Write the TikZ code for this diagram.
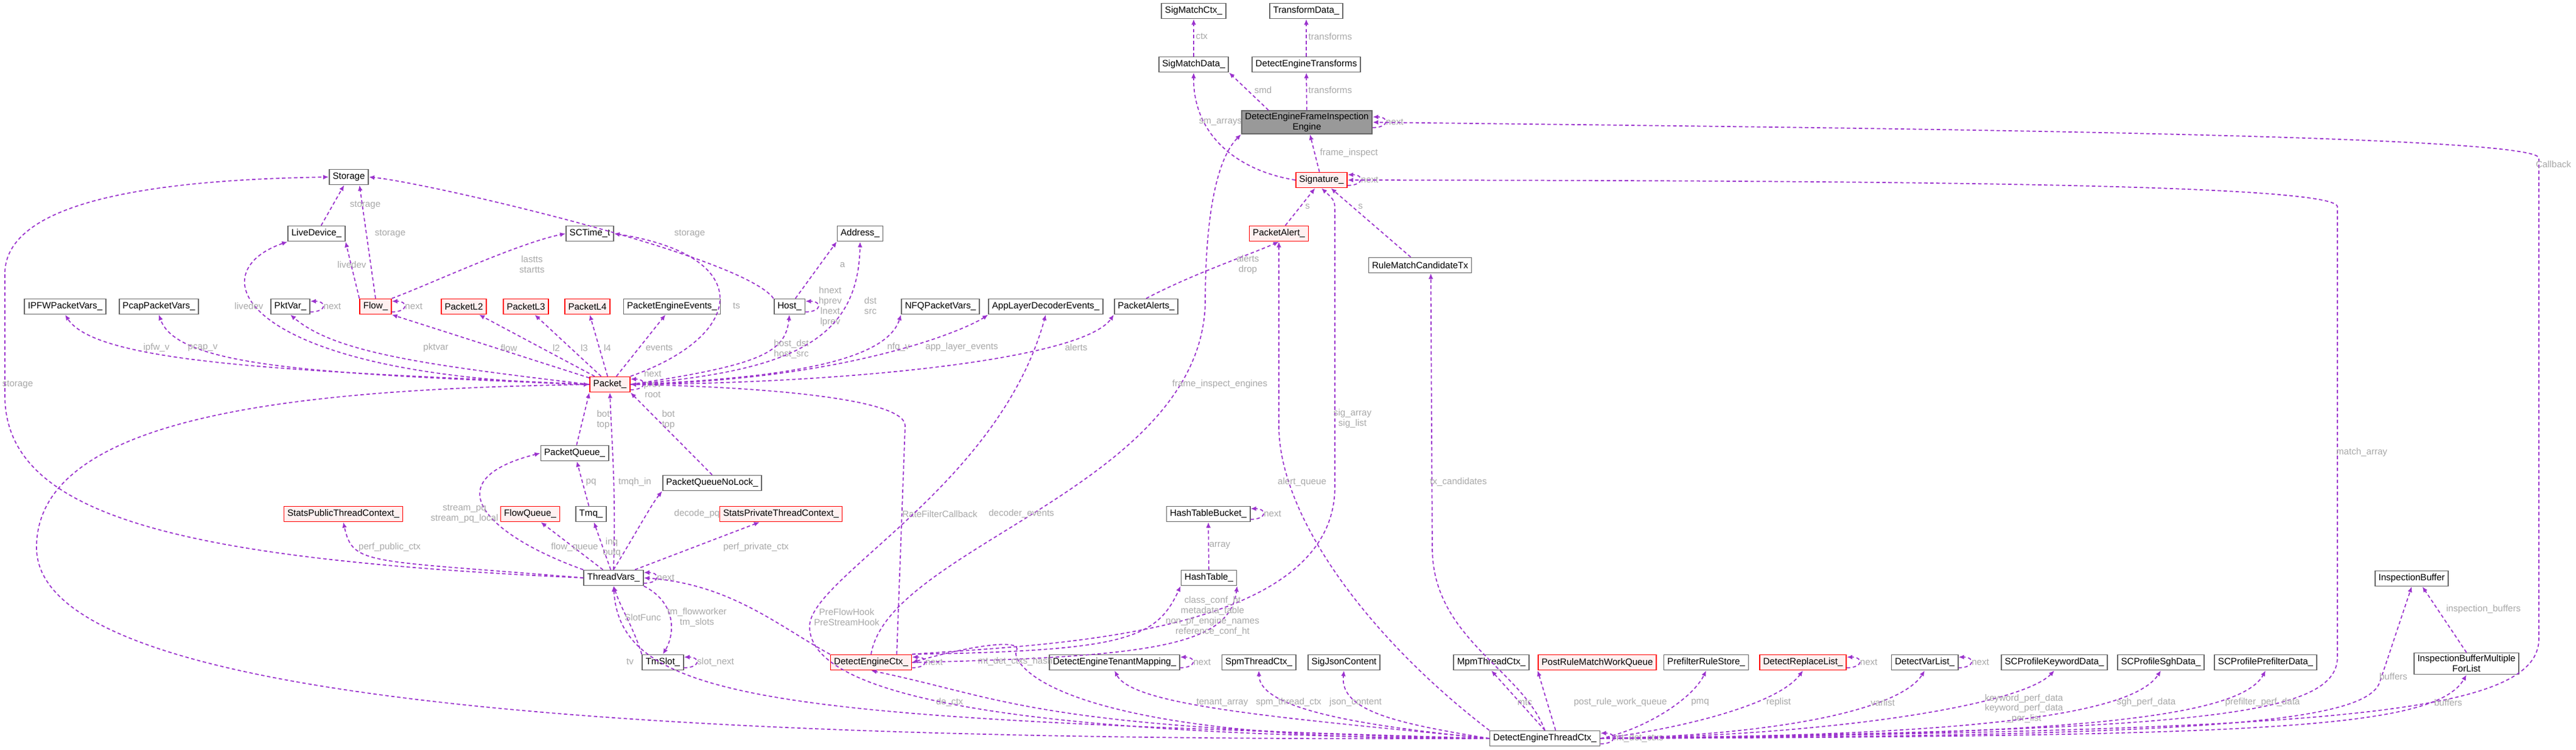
\documentclass[tikz,border=0pt]{standalone}
\usepackage{fontspec}
\setmainfont{Liberation Sans}
\usetikzlibrary{arrows.meta}
\definecolor{ec}{HTML}{9A32CD}
\definecolor{lc}{HTML}{A8A8A8}
\definecolor{rf}{HTML}{FFF0F0}
\begin{document}
\begin{tikzpicture}[
  every node/.style={font=\fontsize{4.3}{4.8}\selectfont},
  box/.style={draw=black!60,fill=white,line width=0.5pt,minimum height=0.25cm,inner xsep=1.6pt,inner ysep=1pt},
  rbox/.style={box,draw=red,fill=rf},
  gbox/.style={box,fill=black!40,align=center},
  e/.style={draw=ec,dashed,dash pattern=on 1.6pt off 1.2pt,line width=0.5pt,-{Latex[length=2.6pt,width=2.2pt]}},
  lbl/.style={text=lc,align=center,inner sep=0pt}]
\useasboundingbox (0,0) rectangle (42.32,-12.32);
% nodes
\node[box] (smc) at (19.61,-0.18) {SigMatchCtx\_};
\node[box] (td) at (21.46,-0.18) {TransformData\_};
\node[box] (smd) at (19.61,-1.06) {SigMatchData\_};
\node[box] (det) at (21.46,-1.06) {DetectEngineTransforms};
\node[gbox] (fie) at (21.47,-2.01) {DetectEngineFrameInspection\\Engine};
\node[rbox] (sig) at (21.71,-2.96) {Signature\_};
\node[rbox] (pa) at (21.01,-3.84) {PacketAlert\_};
\node[box] (rmc) at (23.33,-4.36) {RuleMatchCandidateTx};
\node[box] (sto) at (5.73,-2.91) {Storage};
\node[box] (ld) at (5.20,-3.84) {LiveDevice\_};
\node[box] (sct) at (9.69,-3.84) {SCTime\_t};
\node[box] (addr) at (14.13,-3.84) {Address\_};
\node[box] (ipfw) at (1.07,-5.04) {IPFWPacketVars\_};
\node[box] (pcap) at (2.61,-5.04) {PcapPacketVars\_};
\node[box] (pkv) at (4.77,-5.04) {PktVar\_};
\node[rbox] (flow) at (6.17,-5.04) {Flow\_};
\node[rbox] (l2) at (7.62,-5.04) {PacketL2};
\node[rbox] (l3) at (8.64,-5.04) {PacketL3};
\node[rbox] (l4) at (9.65,-5.04) {PacketL4};
\node[box] (pee) at (11.04,-5.04) {PacketEngineEvents\_};
\node[box] (host) at (12.97,-5.04) {Host\_};
\node[box] (nfq) at (15.45,-5.04) {NFQPacketVars\_};
\node[box] (alde) at (17.18,-5.04) {AppLayerDecoderEvents\_};
\node[box] (pas) at (18.83,-5.04) {PacketAlerts\_};
\node[rbox] (pkt) at (10.02,-6.32) {Packet\_};
\node[box] (pq) at (9.44,-7.45) {PacketQueue\_};
\node[box] (pqnl) at (11.70,-7.94) {PacketQueueNoLock\_};
\node[rbox] (sptc) at (5.64,-8.45) {StatsPublicThreadContext\_};
\node[rbox] (fq) at (8.71,-8.45) {FlowQueue\_};
\node[box] (tmq) at (9.71,-8.45) {Tmq\_};
\node[rbox] (sprtc) at (12.83,-8.45) {StatsPrivateThreadContext\_};
\node[box] (htb) at (19.85,-8.45) {HashTableBucket\_};
\node[box] (tv) at (10.08,-9.50) {ThreadVars\_};
\node[box] (ht) at (19.86,-9.50) {HashTable\_};
\node[box] (ib) at (39.62,-9.51) {InspectionBuffer};
\node[box] (ts) at (10.89,-10.89) {TmSlot\_};
\node[rbox] (dec) at (14.31,-10.89) {DetectEngineCtx\_};
\node[box] (dtm) at (18.31,-10.89) {DetectEngineTenantMapping\_};
\node[box] (spm) at (20.68,-10.89) {SpmThreadCtx\_};
\node[box] (sjc) at (22.08,-10.89) {SigJsonContent};
\node[box] (mpm) at (24.50,-10.89) {MpmThreadCtx\_};
\node[rbox] (prm) at (26.24,-10.89) {PostRuleMatchWorkQueue};
\node[box] (prs) at (28.03,-10.89) {PrefilterRuleStore\_};
\node[rbox] (drl) at (29.62,-10.89) {DetectReplaceList\_};
\node[box] (dvl) at (31.62,-10.89) {DetectVarList\_};
\node[box] (spk) at (33.75,-10.89) {SCProfileKeywordData\_};
\node[box] (sps) at (35.50,-10.89) {SCProfileSghData\_};
\node[box] (spp) at (37.22,-10.89) {SCProfilePrefilterData\_};
\node[box,align=center] (ibm) at (40.52,-10.91) {InspectionBufferMultiple\\ForList};
\node[box] (dtc) at (25.38,-12.14) {DetectEngineThreadCtx\_};
% self loops
\foreach \n/\l in {fie/next,sig/next,pkv/next,flow/next,tv/next,ts/slot\_next,dec/next,dtm/next,drl/next,dvl/next,htb/next,dtc/mt\_det\_ctxs}{
  \draw[e] ([yshift=-2.5pt]\n.east) to[out=0,in=0,looseness=4] ([yshift=2.5pt]\n.east);
  \node[lbl,anchor=west] at ([xshift=6pt]\n.east) {\l};}
\draw[e] ([yshift=-2.5pt]pkt.east) to[out=0,in=0,looseness=4] ([yshift=2.5pt]pkt.east);
\node[lbl,anchor=west] at ([xshift=6pt]pkt.east) {next\\prev\\root};
\draw[e] ([yshift=-2.5pt]host.east) to[out=0,in=0,looseness=4] ([yshift=2.5pt]host.east);
\node[lbl,anchor=west] at ([xshift=6pt]host.east) {hnext\\hprev\\lnext\\lprev};
% top edges
\draw[e] (smd) -- (smc); \node[lbl,anchor=west] at (19.64,-0.6) {ctx};
\draw[e] (det) -- (td); \node[lbl,anchor=west] at (21.49,-0.6) {transforms};
\draw[e] (fie.north west) ++(0.45,0) -- (smd.south east); \node[lbl] at (20.75,-1.48) {smd};
\draw[e] (fie) -- (det); \node[lbl,anchor=west] at (21.49,-1.48) {transforms};
\draw[e] (sig) -- (fie); \node[lbl,anchor=west] at (21.68,-2.52) {frame\_inspect};
\draw[e] (sig.west) .. controls (20.3,-2.8) and (19.6,-2.2) .. (smd.south); \node[lbl] at (20.05,-2.01) {sm\_arrays};
\draw[e] (pa) -- (sig); \node[lbl] at (21.48,-3.4) {s};
\draw[e] (rmc) -- (sig); \node[lbl] at (22.35,-3.4) {s};
\draw[e] (pas.north) .. controls (19.6,-4.5) and (20.5,-4.2) .. (pa.south); \node[lbl] at (20.5,-4.35) {alerts\\drop};
% Packet edges
\draw[e] (pkt.west) .. controls (5,-6.1) and (1.6,-6.0) .. (ipfw.south); \node[lbl] at (2.57,-5.72) {ipfw\_v};
\draw[e] (pkt.west) .. controls (5,-6.15) and (2.9,-6.0) .. (pcap.south); \node[lbl] at (3.33,-5.72) {pcap\_v};
\draw[e] (pkt.west) .. controls (4,-6.2) and (3.2,-4.5) .. (ld.south west); \node[lbl] at (4.09,-5.03) {livedev};
\draw[e] (pkt.west) .. controls (7,-6.0) and (5.5,-5.8) .. (pkv.south); \node[lbl] at (7.16,-5.72) {pktvar};
\draw[e] (pkt) -- (flow.south east); \node[lbl] at (8.36,-5.72) {flow};
\draw[e] (pkt) -- (l2); \node[lbl] at (9.14,-5.72) {l2};
\draw[e] (pkt) -- (l3); \node[lbl] at (9.6,-5.72) {l3};
\draw[e] (pkt) -- (l4); \node[lbl] at (9.98,-5.72) {l4};
\draw[e] (pkt) -- (pee); \node[lbl] at (10.83,-5.72) {events};
\draw[e] (pkt.north east) .. controls (12.3,-5.5) and (12.4,-4.2) .. (sct.east); \node[lbl] at (12.1,-5.03) {ts};
\draw[e] (pkt.east) .. controls (12.5,-6.0) and (12.9,-5.8) .. (host.south); \node[lbl] at (13.0,-5.74) {host\_dst\\host\_src};
\draw[e] (pkt.east) .. controls (13,-6.1) and (14.1,-5.6) .. (addr.south); \node[lbl] at (14.3,-5.03) {dst\\src};
\draw[e] (pkt.east) .. controls (13.5,-6.2) and (14.6,-5.8) .. (nfq.south west); \node[lbl] at (14.76,-5.71) {nfq\_v};
\draw[e] (pkt.east) .. controls (14,-6.25) and (15.9,-5.4) .. (alde.south west); \node[lbl] at (15.8,-5.71) {app\_layer\_events};
\draw[e] (pkt.east) .. controls (14,-6.3) and (17.8,-5.9) .. (pas.south west); \node[lbl] at (17.68,-5.71) {alerts};
\draw[e] (host) -- (addr.south west); \node[lbl] at (13.84,-4.35) {a};
\draw[e] (host.north west) .. controls (12.2,-4.2) and (7,-3.0) .. (sto.east); \node[lbl] at (11.33,-3.84) {storage};
\draw[e] (flow.north west) -- (ld.south east); \node[lbl] at (5.78,-4.35) {livedev};
\draw[e] (flow.north) -- ([xshift=5pt]sto.south); \node[lbl] at (6.41,-3.84) {storage};
\draw[e] (flow.north east) .. controls (7,-4.7) and (8.5,-4.0) .. (sct.west); \node[lbl] at (8.74,-4.35) {lastts\\startts};
\draw[e] (ld) -- (sto); \node[lbl] at (6.0,-3.37) {storage};
% ThreadVars & queues
\draw[e] (pq) -- (pkt.south west); \node[lbl] at (9.91,-6.9) {bot\\top};
\draw[e] (pqnl.north) -- (pkt.south east); \node[lbl] at (10.98,-6.9) {bot\\top};
\draw[e] (tmq) -- (pq); \node[lbl] at (9.71,-7.93) {pq};
\draw[e] (tv.north) .. controls (10.12,-8) and (10.05,-7.3) .. (pkt.south); \node[lbl] at (10.43,-7.93) {tmqh\_in};
\draw[e] (tv.north west) .. controls (8,-8.8) and (7.1,-7.9) .. (pq.west); \node[lbl] at (7.63,-8.45) {stream\_pq\\stream\_pq\_local};
\draw[e] (tv.north) .. controls (10.6,-8.5) and (10.7,-8.3) .. (pqnl.south west); \node[lbl] at (11.45,-8.45) {decode\_pq};
\draw[e] (tv.west) .. controls (6,-9.2) and (5.8,-9.3) .. (sptc.south); \node[lbl] at (6.4,-9.0) {perf\_public\_ctx};
\draw[e] (tv) -- (fq); \node[lbl] at (9.44,-9.0) {flow\_queue};
\draw[e] (tv) -- (tmq); \node[lbl] at (10.05,-9.0) {inq\\outq};
\draw[e] (tv) -- (sprtc); \node[lbl] at (12.42,-9.0) {perf\_private\_ctx};
\draw[e] (tv.west) .. controls (3,-9.2) and (0.08,-8.5) .. (0.08,-6.5) -- (0.08,-4.5) .. controls (0.08,-3.2) and (3,-2.95) .. (sto.west); \node[lbl] at (0.29,-6.32) {storage};
\draw[e] (ts.north west) .. controls (10.4,-10.3) and (10.2,-10.0) .. (tv.south); \node[lbl] at (10.56,-10.15) {SlotFunc};
\draw[e] (tv.south east) .. controls (11.1,-9.9) and (11.1,-10.4) .. (ts.north); \node[lbl] at (11.45,-10.15) {tm\_flowworker\\tm\_slots};
\draw[e] (dec.north west) .. controls (12.8,-10.3) and (12,-9.6) .. (tv.east); \node[lbl] at (13.91,-10.15) {PreFlowHook\\PreStreamHook};
\draw[e] ([xshift=12pt]dec.north) -- (14.87,-7.0) .. controls (14.87,-6.5) and (12,-6.35) .. (pkt.east); \node[lbl] at (15.44,-8.45) {RateFilterCallback};
\draw[e] (dec.north) .. controls (14.6,-9) and (19.7,-8) .. (19.8,-5) .. controls (19.8,-3.5) and (20,-2.6) .. (fie.south west); \node[lbl] at (20.04,-6.32) {frame\_inspect\_engines};
\draw[e] (dec.north east) .. controls (17,-10.6) and (21.93,-10.5) .. (21.93,-8) -- (21.93,-3.5) .. controls (21.93,-3.3) .. (sig.south); \node[lbl] at (22.22,-6.88) {sig\_array\\sig\_list};
\draw[e] (dec.north east) .. controls (18.5,-10.7) and (19.0,-10.5) .. (ht.south west); \draw[e] (dec.east) .. controls (19,-10.8) and (20.2,-10.6) .. (ht.south east);
\node[lbl] at (19.92,-10.13) {class\_conf\_ht\\metadata\_table\\non\_pf\_engine\_names\\reference\_conf\_ht};
\draw[e] (ht) -- (htb); \node[lbl] at (20.04,-8.97) {array};
\draw[e] (dtc.west) .. controls (17,-12.0) and (16.6,-11.5) .. (dec.south); \node[lbl] at (15.6,-11.55) {de\_ctx};
\draw[e] (dtc.west) .. controls (17,-12.2) and (16.6,-10.8) .. (16.7,-10.7) .. controls (16.8,-10.5) and (16,-10.6) .. (dec.east); \node[lbl] at (16.68,-10.88) {mt\_det\_ctxs\_hash};
\draw[e] (dtc.west) .. controls (17,-12.1) and (13.3,-11.5) .. (13.3,-10.3) .. controls (13.3,-9.5) and (16.4,-8) .. (alde.south); \node[lbl] at (16.78,-8.45) {decoder\_events};
\draw[e] (dtc.west) .. controls (13,-11.8) and (10.2,-11.6) .. (tv.south); \node[lbl] at (10.35,-10.88) {tv};
\draw[e] (dtc.west) .. controls (10,-12.2) and (0.6,-11.5) .. (0.6,-9) .. controls (0.6,-6.8) and (5,-6.4) .. (pkt.west);
\draw[e] (dtc.north west) .. controls (22.5,-10.5) and (21.01,-8.5) .. (21.01,-7) -- (pa.south); \node[lbl] at (21.39,-7.93) {alert\_queue};
\draw[e] (dtc.north) .. controls (25.0,-11) and (23.53,-10.5) .. (23.53,-9) -- ([xshift=5pt]rmc.south); \node[lbl] at (23.96,-7.93) {tx\_candidates};
\draw[e] (dtc.east) .. controls (36,-12.0) and (38.4,-11.8) .. (38.4,-10.8) -- (38.4,-3.4) .. controls (38.4,-3.0) and (30,-2.97) .. (sig.east); \node[lbl] at (38.8,-7.44) {match\_array};
\draw[e] (dtc.east) .. controls (38,-12.0) and (41.71,-11.8) .. (41.71,-10.5) -- (41.71,-2.6) .. controls (41.71,-2.2) and (30,-2.1) .. (fie.east); \node[lbl] at (41.95,-2.7) {Callback};
% DETC lower edges
\draw[e] (dtc.west) .. controls (21,-11.8) and (18.6,-11.6) .. (dtm.south); \node[lbl] at (20.08,-11.55) {tenant\_array};
\draw[e] (dtc.west) .. controls (22,-11.9) and (20.7,-11.6) .. (spm.south); \node[lbl] at (21.17,-11.55) {spm\_thread\_ctx};
\draw[e] (dtc.west) .. controls (23,-11.9) and (22.0,-11.7) .. (sjc.south); \node[lbl] at (22.27,-11.55) {json\_content};
\draw[e] (dtc.north) -- (mpm.south); \node[lbl] at (25.05,-11.55) {mtc};
\draw[e] ([xshift=5pt]dtc.north) -- (prm.south west); \node[lbl] at (26.62,-11.55) {post\_rule\_work\_queue};
\draw[e] (dtc.east) .. controls (27,-12.0) and (27.8,-11.5) .. (prs.south); \node[lbl] at (27.93,-11.55) {pmq};
\draw[e] (dtc.east) .. controls (27.5,-12.0) and (29.2,-11.6) .. (drl.south); \node[lbl] at (29.22,-11.55) {replist};
\draw[e] (dtc.east) .. controls (29,-12.1) and (31.2,-11.7) .. (dvl.south); \node[lbl] at (30.93,-11.55) {varlist};
\draw[e] (dtc.east) .. controls (30,-12.1) and (33.2,-11.6) .. (spk.south); \node[lbl] at (33.25,-11.65) {keyword\_perf\_data\\keyword\_perf\_data\\\_per\_list};
\draw[e] (dtc.east) .. controls (32,-12.1) and (35,-11.8) .. (sps.south); \node[lbl] at (35.26,-11.55) {sgh\_perf\_data};
\draw[e] (dtc.east) .. controls (34,-12.1) and (36.8,-11.8) .. (spp.south); \node[lbl] at (37.17,-11.55) {prefilter\_perf\_data};
\draw[e] (dtc.east) .. controls (36,-12.1) and (38.9,-11.9) .. (39.1,-11.2) -- (ib.south); \node[lbl] at (39.32,-11.12) {buffers};
\draw[e] (dtc.east) .. controls (37,-12.1) and (40,-12.0) .. (ibm.south); \node[lbl] at (40.22,-11.55) {buffers};
\draw[e] (ibm.north) -- ([xshift=5pt]ib.south); \node[lbl] at (40.8,-10.02) {inspection\_buffers};
\end{tikzpicture}
\end{document}
